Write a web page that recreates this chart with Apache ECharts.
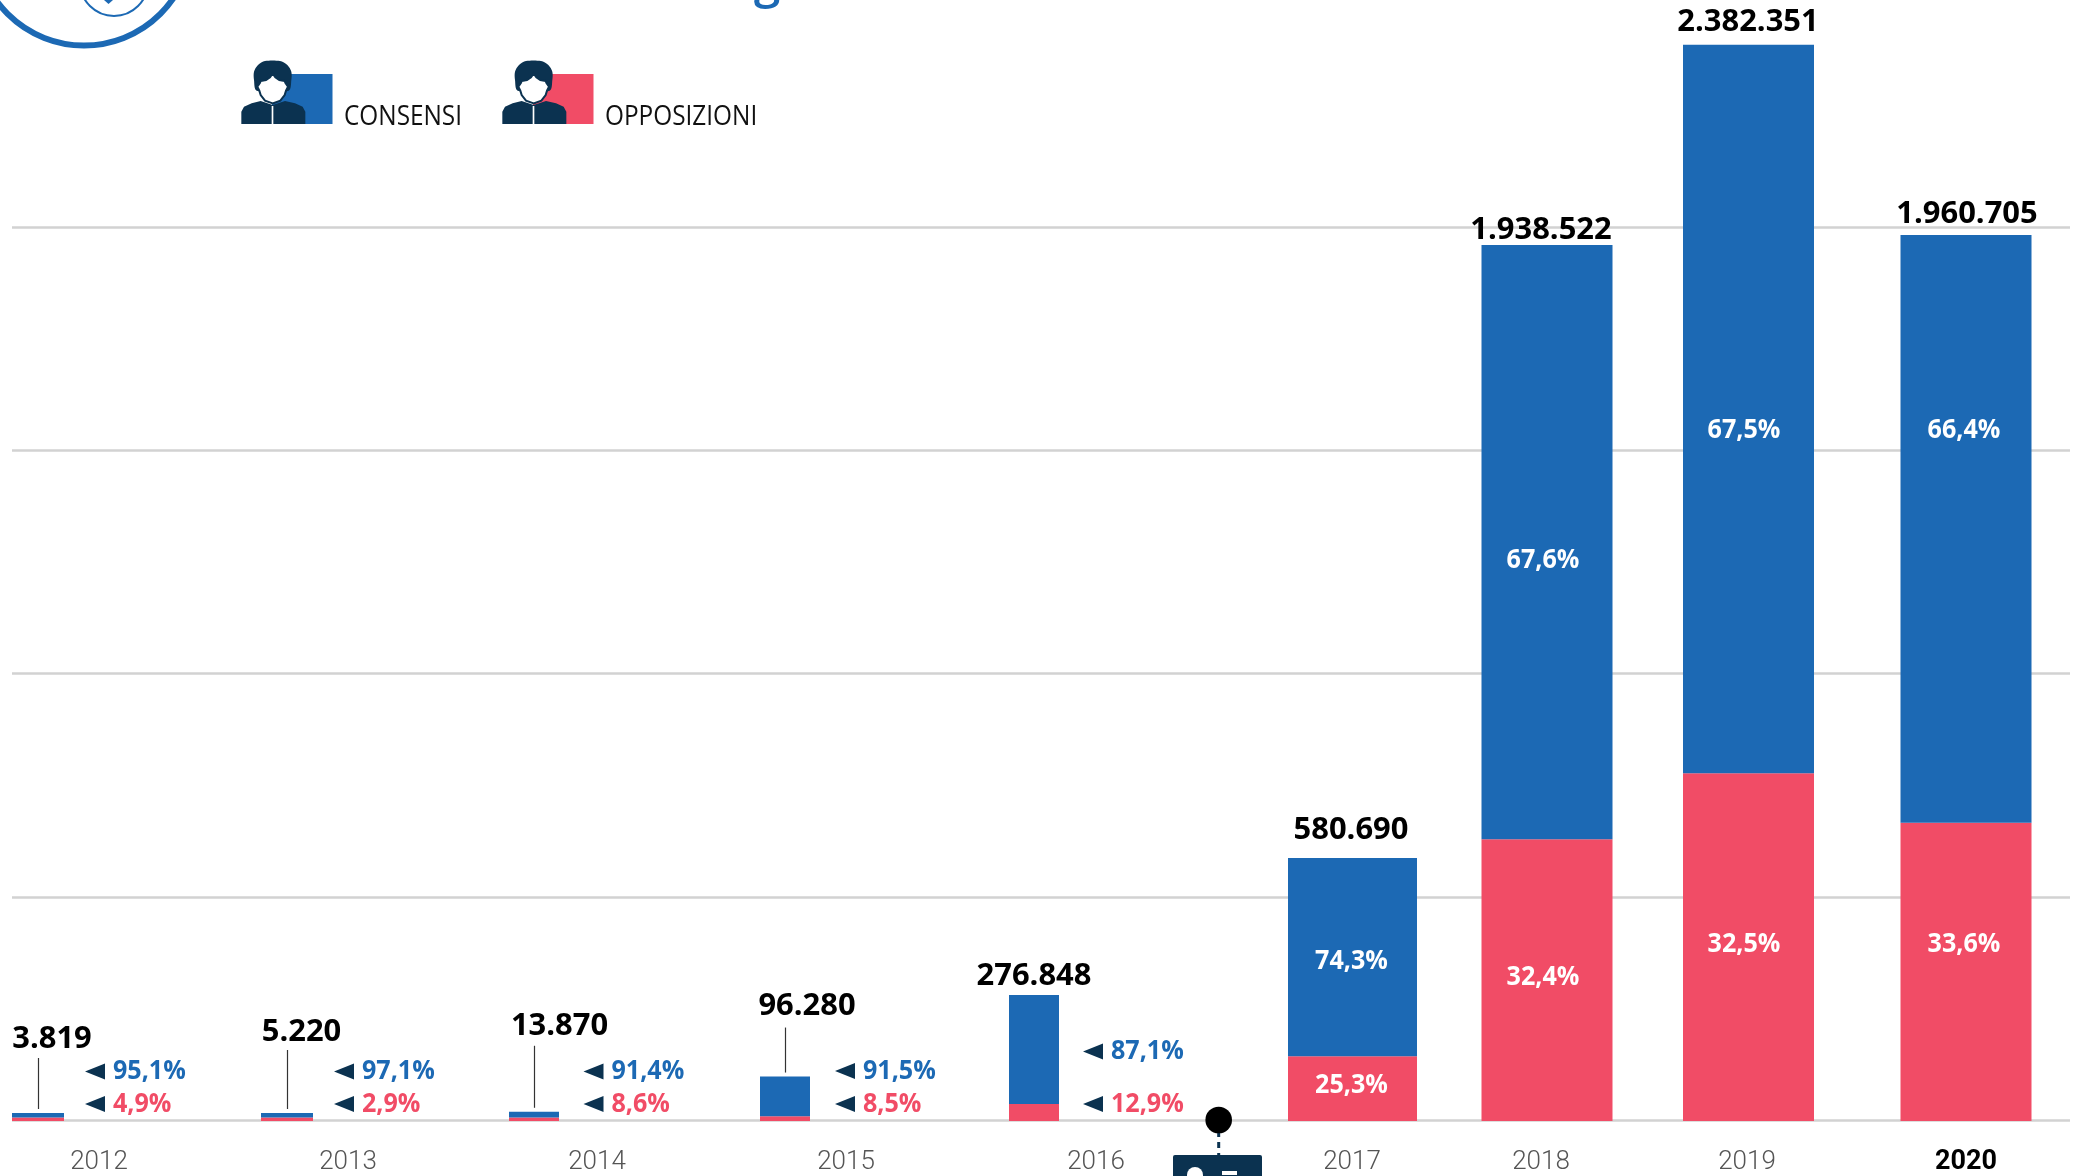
<!DOCTYPE html>
<html><head><meta charset="utf-8">
<style>html,body{margin:0;padding:0;background:#fff}#c{width:2074px;height:1176px}</style>
<script src="https://cdn.jsdelivr.net/npm/echarts@6/dist/echarts.min.js"></script>
</head><body><div id="c"></div>
<script>
// ---- data ----
const years = ['2012','2013','2014','2015','2016','2017','2018','2019','2020'];
const totals = [3819,5220,13870,96280,276848,580690,1938522,2382351,1960705];
const consensi = [3632,5069,12677,88096,241135,439690,1316522,1614351,1301908];
const opposizioni = [187,151,1193,8184,35713,141000,622000,768000,658797];
const consensiPct = ['95,1%','97,1%','91,4%','91,5%','87,1%','74,3%','67,6%','67,5%','66,4%'];
const opposizioniPct = ['4,9%','2,9%','8,6%','8,5%','12,9%','25,3%','32,4%','32,5%','33,6%'];
const totalFmt = v => String(v).replace(/\B(?=(\d{3})+$)/g,'.');

// ---- layout (axis units on the x scale, px elsewhere) ----
const barCenter = [38,287,534,785,1034,1352.5,1547,1748.5,1966];
const barWidth  = [52,52,50,50,50,129,131,131,131];
const yearLabelX = [99,348,597,846,1096,1352,1541,1747,1966];
const totalLabelX = [52,301.5,559.5,807,1034,1351,1541,1748,1967];
const totalLabelY = [1039,1032,1026,1006,976,830,230,22,214];
const pctRows = [ // arrow left, consensi y, opposizioni y
  [85,1071.5,1104],[334,1071.5,1104],[583.5,1071.5,1104],[835,1071,1104],[1083,1051.5,1104]];
const insideLabelX = [1351.5,1543,1744,1964];
const insideBlueY = [961,560,430.5,430.5];
const insideRedY = [1085,977,944,944];
const leaderLen = [51,59,62,45];

const BLUE='#1c69b4', RED='#f14c66', NAVY='#0b3250';
const chart = echarts.init(document.getElementById('c'),null,{renderer:'canvas'});

function segPx(i, api){
  const zero = api.coord([0,0])[1];
  const r = Math.max(zero-api.coord([0,opposizioni[i]])[1], 2.5);
  const b = Math.max(zero-api.coord([0,consensi[i]])[1], 4.5);
  return {zero,r,b};
}
const barRender = kind => (params,api)=>{
  const i = params.dataIndex, s = segPx(i,api);
  const cx = api.coord([barCenter[i],0])[0];
  const w = barWidth[i];
  const shape = kind==='r'
    ? {x:cx-w/2,y:s.zero-s.r,width:w,height:s.r+1}
    : {x:cx-w/2,y:s.zero-s.r-s.b,width:w,height:s.b};
  return {type:'rect',shape,style:{fill:kind==='r'?RED:BLUE}};
};
const leaderRender = (params,api)=>{
  const i = params.dataIndex; if(i>3) return null;
  const s = segPx(i,api);
  const cx = Math.round(api.coord([barCenter[i],0])[0])+0.5;
  const y1 = s.zero-s.r-s.b-4;
  return {type:'line',shape:{x1:cx,x2:cx,y1,y2:y1-leaderLen[i]},style:{stroke:'#333',lineWidth:1.2}};
};

// ---- text & pictograms ----
const els = [];
const txt = (text,x,y,font,fill,sx,align)=>els.push({type:'text',x,y,scaleX:sx||1,z:20,silent:true,
  style:{text,x:0,y:0,font,fill,align:align||'center',verticalAlign:'middle'}});
const TOTAL_F = 'bold 30px "Open Sans"', PCT_F='bold 27px "Open Sans"';

years.forEach((y,i)=>txt(totalFmt(totals[i]),totalLabelX[i],totalLabelY[i],TOTAL_F,'#000',1.03));
pctRows.forEach((r,i)=>{
  [[r[1],consensiPct[i],BLUE],[r[2],opposizioniPct[i],RED]].forEach(row=>{
    els.push({type:'polygon',z:20,silent:true,shape:{points:[[r[0],row[0]],[r[0]+20,row[0]-8],[r[0]+20,row[0]+8]]},style:{fill:NAVY}});
    txt(row[1],r[0]+28,row[0],PCT_F,row[2],0.93,'left');
  });
});
insideLabelX.forEach((x,k)=>{
  txt(consensiPct[k+5],x,insideBlueY[k],PCT_F,'#fff',0.93);
  txt(opposizioniPct[k+5],x,insideRedY[k],PCT_F,'#fff',0.93);
});

// logo fragments & title descender
els.push({type:'circle',shape:{cx:84,cy:-62.5,r:108},style:{fill:'none',stroke:BLUE,lineWidth:6},silent:true});
els.push({type:'circle',shape:{cx:114,cy:-18,r:34},style:{fill:'none',stroke:BLUE,lineWidth:2},silent:true});
els.push({type:'polygon',shape:{points:[[104,0],[113,0],[108.5,4]]},style:{fill:BLUE},silent:true});
els.push({type:'text',x:767,y:-17,silent:true,style:{text:'g',x:0,y:0,font:'600 48px "Open Sans"',fill:BLUE,align:'center',verticalAlign:'middle'}});

// legend pictograms
function person(ox,oy,colour){
  const P = a => a.map(p=>[ox+p[0]/3,oy+p[1]/3]);
  const S = (pts,fill,extra,smooth)=>els.push({type:'polygon',z:6,silent:true,
    shape:{points:P(pts),smooth:smooth||0},style:Object.assign({fill},extra||{})});
  els.push({type:'rect',shape:{x:ox+42,y:oy+24,width:60.5,height:50},style:{fill:colour},silent:true,z:5});
  S([[34,222],[34,185],[42,170],[65,160],[92,153],[128,165],[165,153],[195,160],[218,170],[226,185],[226,222]],NAVY);
  S([[80,122],[72,90],[72,65],[84,45],[105,33],[150,33],[172,45],[184,65],[184,90],[176,122]],NAVY,null,0.3);
  S([[128,160],[105,152],[92,135],[88,122],[82,110],[90,98],[92,93],[108,90],[120,82],[128,70],[136,82],[148,90],[164,93],[166,98],[174,110],[168,122],[164,135],[151,152]],'#fff',{stroke:NAVY,lineWidth:2});
  els.push({type:'rect',z:6,silent:true,shape:{x:ox+125/3,y:oy+168/3,width:5/3,height:54/3},style:{fill:'#fff'}});
}
person(230,50,BLUE);
person(491,50,RED);
txt('CONSENSI',344,117.5,'28px "Open Sans"','#111',0.87,'left');
txt('OPPOSIZIONI',605,117.5,'28px "Open Sans"','#111',0.87,'left');

// dot, dashed line, badge
els.push({type:'line',z:7,silent:true,shape:{x1:1218.7,x2:1218.7,y1:1120,y2:1156},style:{stroke:NAVY,lineWidth:3,lineDash:[6,5]}});
els.push({type:'circle',z:8,silent:true,shape:{cx:1218.7,cy:1120,r:13.3},style:{fill:'#000'}});
els.push({type:'rect',z:8,silent:true,shape:{x:1173,y:1155,width:89,height:40,r:2},style:{fill:NAVY}});
els.push({type:'circle',z:9,silent:true,shape:{cx:1195,cy:1175,r:8},style:{fill:'#fff'}});
els.push({type:'rect',z:9,silent:true,shape:{x:1222,y:1171,width:15,height:4},style:{fill:'#fff'}});

chart.setOption({
  animation:false,
  backgroundColor:'#fff',
  grid:{left:12,right:4,top:4,height:1116,outerBoundsMode:'none'},
  xAxis:{type:'value',min:12,max:2070,show:true,splitLine:{show:false},
    axisLine:{show:false},axisTick:{show:false},
    axisLabel:{customValues:yearLabelX,margin:29,color:'#555',
      fontFamily:'Roboto',fontWeight:300,fontSize:26,
      formatter:v=>{const i=yearLabelX.indexOf(v);return i===8?'{b|'+years[i]+'}':years[i];},
      rich:{b:{fontFamily:'Roboto',fontWeight:'bold',fontSize:27,color:'#000'}}}},
  yAxis:{type:'value',min:0,max:2472500,interval:494500,
    axisLine:{show:false},axisTick:{show:false},axisLabel:{show:false},
    splitLine:{show:true,showMaxLine:false,lineStyle:{color:'#d2d2d2',width:2.5}}},
  series:[
    {name:'Opposizioni',type:'custom',renderItem:barRender('r'),z:3,silent:true,clip:false,
      data:opposizioni.map((v,i)=>[barCenter[i],v]),encode:{x:0,y:1}},
    {name:'Consensi',type:'custom',renderItem:barRender('b'),z:3,silent:true,clip:false,
      data:consensi.map((v,i)=>[barCenter[i],v]),encode:{x:0,y:1}},
    {name:'Totale',type:'custom',renderItem:leaderRender,z:3,silent:true,clip:false,
      data:totals.map((v,i)=>[barCenter[i],v]),encode:{x:0,y:1}}
  ],
  graphic:{elements:els}
});
</script></body></html>
